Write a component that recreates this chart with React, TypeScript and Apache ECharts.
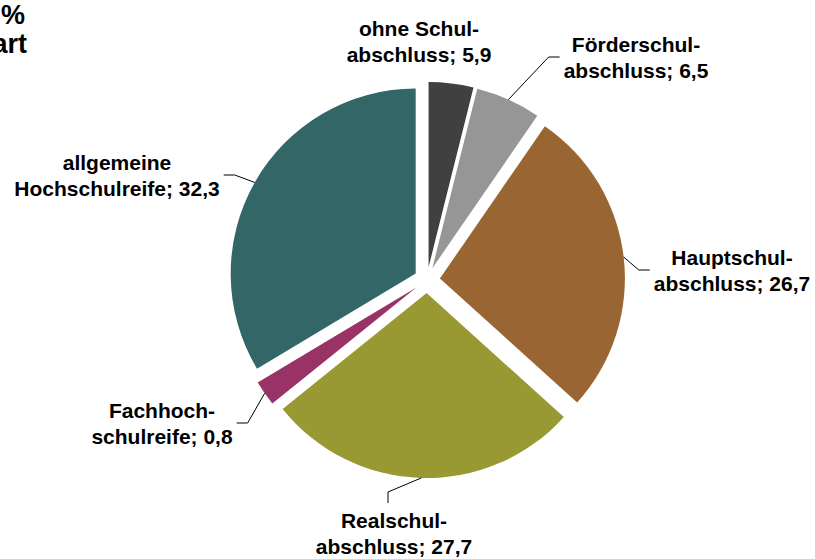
import React, { useEffect, useRef } from 'react';
import * as echarts from 'echarts';

// ---- data ----
const categories: string[] = [
  'ohne Schul-\nabschluss',
  'Förderschul-\nabschluss',
  'Hauptschul-\nabschluss',
  'Realschul-\nabschluss',
  'Fachhoch-\nschulreife',
  'allgemeine\nHochschulreife',
];
// values printed in the labels (%)
const labelValues: number[] = [5.9, 6.5, 26.7, 27.7, 0.8, 32.3];
// slice sizes as drawn in the reference (%)
const sliceShares: number[] = [3.9, 5.7, 27.1, 27.5, 2.2, 33.6];
const titleFragments: string[] = ['%', 'art'];

// ---- styles / layout ----
const colors = ['#404040', '#969696', '#996633', '#999933', '#993366', '#336666'];
const CX = 427;
const CY = 280;
const R = 185;
const EXPLODE = 13;
type Side = 'none' | 'left' | 'right' | 'bottom';
const labelPlacement: { x: number; y: number; side: Side }[] = [
  { x: 419, y: 41, side: 'none' },
  { x: 636, y: 57, side: 'right' },
  { x: 732, y: 270, side: 'right' },
  { x: 394, y: 533, side: 'bottom' },
  { x: 162, y: 423, side: 'left' },
  { x: 117, y: 175, side: 'left' },
];
const titleStyle = {
  fontFamily: '"Liberation Sans", Arial, sans-serif',
  fontWeight: 'bold',
  fontSize: 27,
  fill: '#000',
  align: 'right',
  verticalAlign: 'middle',
};

const fmt = (v: number) => v.toFixed(1).replace('.', ',');

export default function App() {
  const ref = useRef<HTMLDivElement>(null);

  useEffect(() => {
    if (!ref.current) return;
    const chart = echarts.init(ref.current, null, { renderer: 'svg' });

    const total = sliceShares.reduce((a, b) => a + b, 0);
    const midAngles: number[] = [];
    let acc = 0;
    sliceShares.forEach((s) => {
      const a = (s / total) * 360;
      midAngles.push(acc + a / 2);
      acc += a;
    });

    const labelFont = {
      fontFamily: '"Liberation Sans", Arial, sans-serif',
      fontWeight: 'bold' as const,
      fontSize: 21,
      lineHeight: 26,
      color: '#000',
    };

    chart.setOption({
      animation: false,
      backgroundColor: '#fff',
      graphic: [
        { type: 'text', x: 25, y: 14.5, style: { ...titleStyle, text: titleFragments[0] } },
        { type: 'text', x: 27, y: 43.5, style: { ...titleStyle, text: titleFragments[1] } },
      ],
      series: [
        {
          type: 'pie',
          center: [CX, CY],
          radius: R,
          startAngle: 90,
          clockwise: true,
          selectedMode: 'multiple',
          selectedOffset: EXPLODE,
          label: { show: false },
          labelLine: { show: false },
          emphasis: { disabled: true },
          data: categories.map((c, i) => ({
            name: c,
            value: sliceShares[i],
            selected: true,
            itemStyle: { color: colors[i], borderWidth: 0 },
            select: { itemStyle: { color: colors[i], borderWidth: 0 } },
          })),
          z: 1,
        },
        {
          type: 'pie',
          center: [CX, CY],
          radius: R,
          startAngle: 90,
          clockwise: true,
          silent: true,
          selectedMode: false,
          avoidLabelOverlap: false,
          itemStyle: { color: 'rgba(0,0,0,0)' },
          emphasis: { disabled: true },
          label: {
            show: true,
            position: 'outside',
            align: 'center',
            ...labelFont,
            formatter: (p: any) => `${categories[p.dataIndex]}; ${fmt(labelValues[p.dataIndex])}`,
          },
          labelLine: { show: true, lineStyle: { color: '#000', width: 1 } },
          labelLayout: (params: any) => {
            const i = params.dataIndex;
            const cfg = labelPlacement[i];
            const w = params.labelRect.width;
            const h = params.labelRect.height;
            const th = (midAngles[i] * Math.PI) / 180;
            const rr = R + EXPLODE;
            const p0 = [CX + rr * Math.sin(th), CY - rr * Math.cos(th)];
            let p1: number[] = p0;
            let p2: number[] = p0;
            if (cfg.side === 'right') {
              p2 = [cfg.x - w / 2 - 4, cfg.y];
              p1 = [p2[0] - 11, cfg.y];
            } else if (cfg.side === 'left') {
              p2 = [cfg.x + w / 2 + 4, cfg.y];
              p1 = [p2[0] + 11, cfg.y];
            } else if (cfg.side === 'bottom') {
              p2 = [cfg.x - 6, cfg.y - h / 2 - 4];
              p1 = [p2[0], p2[1] - 11];
            }
            return {
              x: cfg.x,
              y: cfg.y,
              align: 'center',
              verticalAlign: 'middle',
              labelLinePoints: [p0, p1, p2],
            };
          },
          data: categories.map((c, i) => ({
            name: c,
            value: sliceShares[i],
            labelLine: { show: labelPlacement[i].side !== 'none' },
          })),
          z: 2,
        },
      ],
    });

    return () => chart.dispose();
  }, []);

  return (
    <div
      ref={ref}
      style={{ position: 'absolute', left: 0, top: 0, width: 815, height: 559, background: '#fff' }}
    />
  );
}
